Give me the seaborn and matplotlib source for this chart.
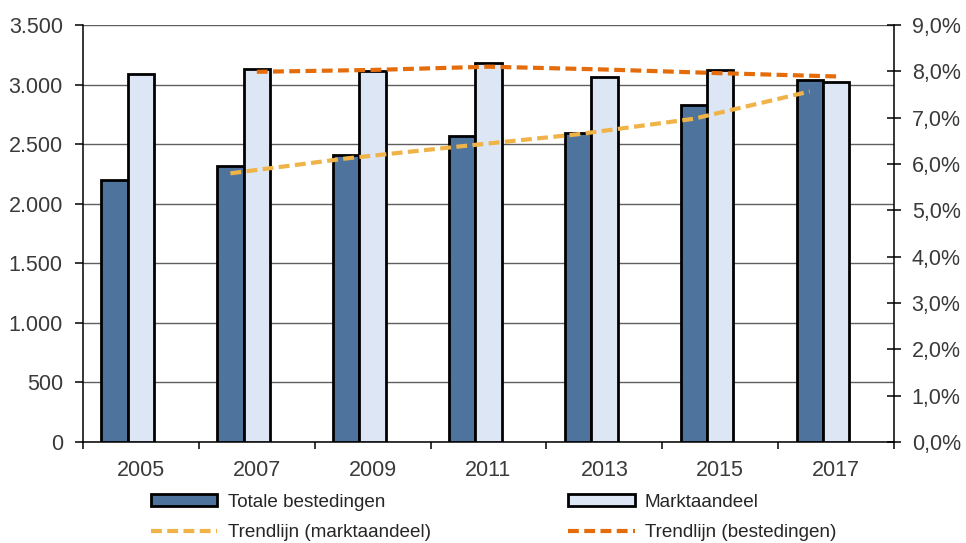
import matplotlib
matplotlib.use("Agg")
import matplotlib.pyplot as plt
import matplotlib.ticker as mticker
from matplotlib.patches import Patch
from matplotlib.lines import Line2D
import numpy as np
import pandas as pd
import seaborn as sns

# ---- data ----
years = ["2005", "2007", "2009", "2011", "2013", "2015", "2017"]
totale_bestedingen = [2200, 2317, 2408, 2569, 2594, 2825, 3040]          # left axis
marktaandeel = [7.94, 8.05, 8.01, 8.17, 7.885, 8.03, 7.78]               # right axis (%)
trend_years = ["2007", "2009", "2011", "2013", "2015", "2017"]
trend_marktaandeel = [2255, 2380, 2483, 2583, 2713, 2942]               # yellow, left axis units
trend_bestedingen = [7.99, 8.03, 8.10, 8.04, 7.96, 7.89]                # orange, right axis (%)
left_ticks = [0, 500, 1000, 1500, 2000, 2500, 3000, 3500]
right_ticks = [0, 1, 2, 3, 4, 5, 6, 7, 8, 9]

lbl_tot = "Totale bestedingen"
lbl_mkt = "Marktaandeel"
lbl_tr_mkt = "Trendlijn (marktaandeel)"
lbl_tr_bst = "Trendlijn (bestedingen)"

c_dark = "#4E749E"
c_light = "#DCE6F4"
c_orange = "#E46C0A"
c_yellow = "#F0B347"
c_text = "#3a3a3a"

sns.set_style("white")
plt.rcParams["font.family"] = ["Liberation Sans", "DejaVu Sans"]

fig = plt.figure(figsize=(9.66, 5.43), dpi=100)
W, H = 966, 543
ax1 = fig.add_axes([83 / W, 101 / H, 811 / W, 417 / H])
ax2 = ax1.twinx()
ax3 = ax1.twinx()

group_w = 0.683
bar_w = group_w / 3
idx = np.arange(len(years), dtype=float)

df_tot = pd.DataFrame({"pos": idx - bar_w, "waarde": totale_bestedingen})
df_mkt = pd.DataFrame({"pos": idx, "waarde": marktaandeel})

sns.barplot(data=df_tot, x="pos", y="waarde", native_scale=True, width=bar_w,
            color=c_dark, saturation=1, errorbar=None,
            edgecolor="black", linewidth=2.0, ax=ax1, zorder=3)
sns.barplot(data=df_mkt, x="pos", y="waarde", native_scale=True, width=bar_w,
            color=c_light, saturation=1, errorbar=None,
            edgecolor="black", linewidth=2.0, ax=ax2, zorder=3)

# trendlines: through bar centres
idx_tr = np.array([years.index(y) for y in trend_years], dtype=float)
sns.lineplot(x=idx_tr, y=trend_bestedingen, ax=ax2, color=c_orange, lw=3.0, zorder=5)
sns.lineplot(x=idx_tr - bar_w, y=trend_marktaandeel, ax=ax3, color=c_yellow, lw=3.0, zorder=5)
for ln in ax2.get_lines() + ax3.get_lines():
    ln.set_dashes((2.6, 1.3))
    ln.set_dash_capstyle("butt")

# axes limits
for a in (ax1, ax2, ax3):
    a.set_xlim(-0.5, len(years) - 0.5)
ax1.set_ylim(0, 3500)
ax3.set_ylim(0, 3500)
ax2.set_ylim(0, 9)

# left axis
ax1.set_yticks(left_ticks)
ax1.yaxis.set_major_formatter(mticker.FuncFormatter(lambda v, p: f"{int(v):,}".replace(",", ".")))
ax1.yaxis.grid(True, color="#5f5f5f", lw=1.0, zorder=0)
ax1.xaxis.grid(False)
ax1.set_axisbelow(True)
ax1.tick_params(axis="y", which="major", direction="out", length=5.5, width=1.1,
                color="black", labelsize=15.5, labelcolor=c_text, pad=9, left=True)

# x axis: ticks at boundaries, labels at centres
ax1.set_xticks(np.arange(-0.5, len(years), 1.0))
ax1.set_xticklabels([])
ax1.set_xticks(idx, minor=True)
ax1.set_xticklabels(years, minor=True)
ax1.tick_params(axis="x", which="major", direction="out", length=5, width=1.1,
                color="black", bottom=True)
ax1.tick_params(axis="x", which="minor", length=0, labelsize=15.5,
                labelcolor=c_text, pad=13)
ax1.set_xlabel("")
ax1.set_ylabel("")

# right axis
ax2.set_yticks(right_ticks)
ax2.yaxis.set_major_formatter(mticker.FuncFormatter(lambda v, p: f"{v:.1f}%".replace(".", ",")))
ax2.tick_params(axis="y", direction="inout", length=9.5, width=1.1, color="black",
                labelsize=15.5, labelcolor=c_text, pad=8, right=True)
ax2.set_ylabel("")
ax2.set_xlabel("")
ax2.grid(False)

ax3.set_axis_off()

for s in ("top", "right"):
    ax1.spines[s].set_visible(False)
for s in ("top", "left", "bottom"):
    ax2.spines[s].set_visible(False)
for s in ("left", "bottom"):
    ax1.spines[s].set_color("black")
    ax1.spines[s].set_linewidth(1.1)
ax2.spines["right"].set_color("black")
ax2.spines["right"].set_linewidth(1.1)

# legend
handles = [
    Patch(facecolor=c_dark, edgecolor="black", linewidth=2.0, label=lbl_tot),
    Line2D([0], [0], color=c_yellow, lw=3.0, dashes=(2.6, 1.3), label=lbl_tr_mkt),
    Patch(facecolor=c_light, edgecolor="black", linewidth=2.0, label=lbl_mkt),
    Line2D([0], [0], color=c_orange, lw=3.0, dashes=(2.6, 1.3), label=lbl_tr_bst),
]
fig.legend(handles=handles, ncol=2, loc="upper left",
           bbox_to_anchor=(151 / W, 1 - 494 / H), frameon=False,
           fontsize=13.6, handlelength=3.5, handleheight=0.6, handletextpad=0.55,
           columnspacing=7.3, labelspacing=0.7, borderpad=0, borderaxespad=0,
           labelcolor="#262626")

fig.savefig("out.png", dpi=100)
